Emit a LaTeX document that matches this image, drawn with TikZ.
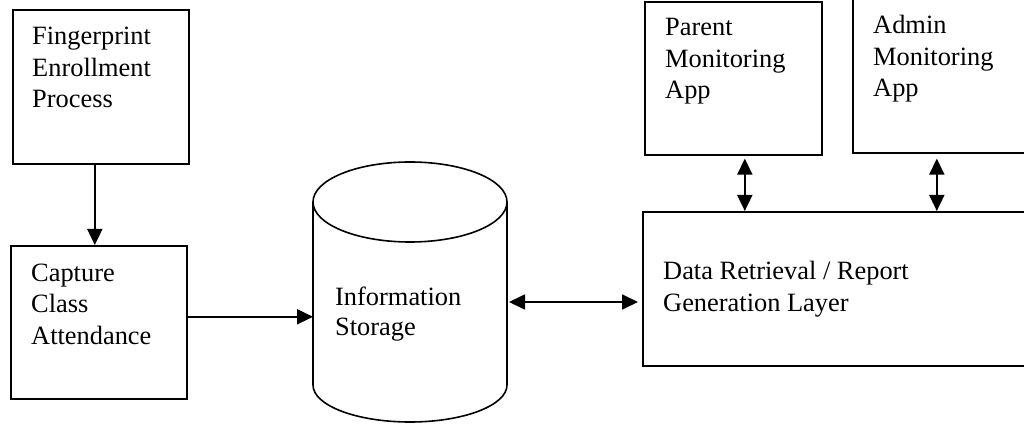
\documentclass[tikz,border=0pt]{standalone}
\usepackage{fontspec}
\setmainfont{Liberation Serif}
\usetikzlibrary{arrows.meta,calc}
\begin{document}
\begin{tikzpicture}[x=1pt,y=1pt,
  box/.style={draw, line width=1.6pt, inner sep=0pt, anchor=north west},
  ghost/.style={inner sep=0pt, outer sep=0pt},
  lbl/.style={anchor=base west, align=left, inner sep=0pt, font=\fontsize{26.4}{31.5}\selectfont},
  tip/.tip={Triangle[length=16pt,width=15pt]},
  arr/.style={line width=1.8pt, -tip},
  darr/.style={line width=1.8pt, tip-tip},
]
\clip (0,0) rectangle (1024,423);
\useasboundingbox (0,0) rectangle (1024,423);
% boxes
\node[box, minimum width=176pt, minimum height=154pt] (fp) at (12,414) {};
\node[box, minimum width=176pt, minimum height=153pt] (cap) at (10,178) {};
\node[box, minimum width=177pt, minimum height=153pt] (parent) at (644,422) {};
\node[box, minimum width=200pt, minimum height=162pt] (admin) at (852,433) {};
\node[box, minimum width=400pt, minimum height=154pt] (data) at (642,212) {};
% cylinder
\draw[line width=1.6pt] (313,221) -- (313,38) arc[start angle=180, end angle=360, x radius=97, y radius=37] -- (507,221);
\draw[line width=1.6pt] (410,221) ellipse[x radius=97, y radius=40];
\node[ghost, minimum width=194pt, minimum height=260pt] (db) at (410,131) {};
% labels (anchor = baseline of last line)
\node[lbl] (fpt) at (32,315) {Fingerprint\\Enrollment\\Process};
\node[lbl] (capt) at (31,79) {Capture\\Class\\Attendance};
\node[lbl, font=\fontsize{26.4}{30}\selectfont] (dbt) at (335,88) {Information\\Storage};
\node[lbl] (parentt) at (665,324) {Parent\\Monitoring\\App};
\node[lbl] (admint) at (873,326) {Admin\\Monitoring\\App};
\node[lbl] (datat) at (663,111.5) {Data Retrieval / Report\\Generation Layer};
% connectors
\draw[arr] ([xshift=-6pt]fp.south) -- ([xshift=-6pt]fp.south |- cap.north);
\draw[arr] ([yshift=5.5pt]cap.east) -- ([yshift=5.5pt]cap.east -| db.west);
\draw[darr, shorten <=2pt, shorten >=4pt] ([yshift=-10pt]db.east) -- ([yshift=-10pt]db.east -| data.west);
\draw[darr, shorten <=3pt] ([xshift=11.5pt]parent.south) -- ([xshift=11.5pt]parent.south |- data.north);
\draw[darr, shorten <=5pt] ([xshift=-16pt]admin.south) -- ([xshift=-16pt]admin.south |- data.north);
\end{tikzpicture}
\end{document}
